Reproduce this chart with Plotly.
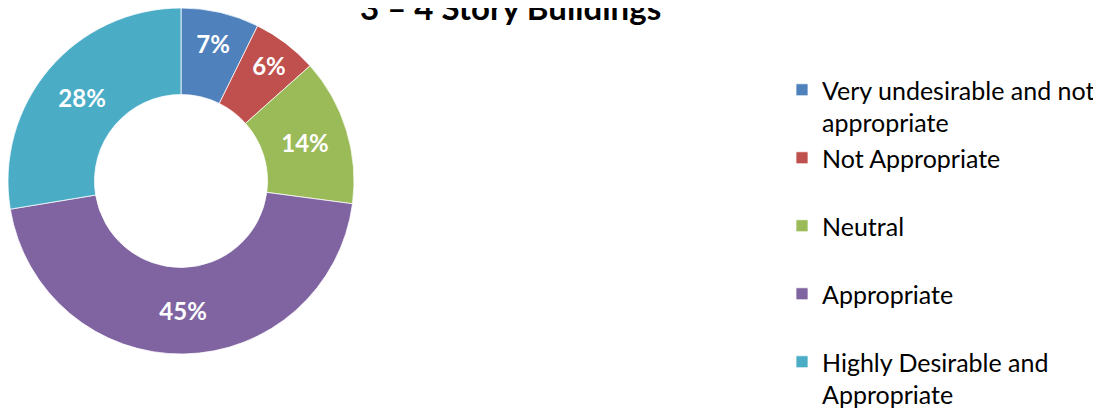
import plotly.graph_objects as go

# Data
categories = [
    "Very undesirable and not<br>appropriate",
    "Not Appropriate<br> ",
    "Neutral<br> ",
    "Appropriate<br> ",
    "Highly Desirable and<br>Appropriate",
]
values = [7.3, 6.1, 13.7, 45.3, 27.6]
colors = ["#4F81BD", "#C0504D", "#9BBB59", "#8064A2", "#4BACC6"]
title_text = "3 – 4 Story Buildings"

W, H = 1101, 409
cx, cy, r = 173.0, 173.0, 173.0

fig = go.Figure(
    go.Pie(
        labels=categories,
        values=values,
        hole=0.5,
        sort=False,
        direction="clockwise",
        rotation=0,
        marker=dict(colors=colors, line=dict(color="white", width=0.75)),
        texttemplate="%{percent:.0%}",
        textposition="inside",
        insidetextorientation="horizontal",
        textfont=dict(family="Lato", size=24, color="white", weight="bold"),
        domain=dict(
            x=[max(0, (cx - r) / W), (cx + r) / W],
            y=[(H - cy - r) / H, min(1, (H - cy + r) / H)],
        ),
        hoverinfo="label+percent",
    )
)

fig.add_annotation(
    text="<b>" + title_text + "</b>",
    x=502 / W, y=1 + 1 / H, xref="paper", yref="paper",
    xanchor="center", yanchor="middle", showarrow=False,
    font=dict(family="Lato", size=33, color="black"),
)

fig.update_layout(
    width=W, height=H,
    margin=dict(l=0, r=0, t=0, b=0),
    paper_bgcolor="white", plot_bgcolor="white",
    uniformtext=dict(mode="show", minsize=24),
    legend=dict(
        x=774 / W, y=1 - 64 / H, xanchor="left", yanchor="top",
        valign="top",
        font=dict(family="Lato", size=25, color="black"),
        bgcolor="rgba(0,0,0,0)",
    ),
    showlegend=True,
)

fig.write_html("out.html")
